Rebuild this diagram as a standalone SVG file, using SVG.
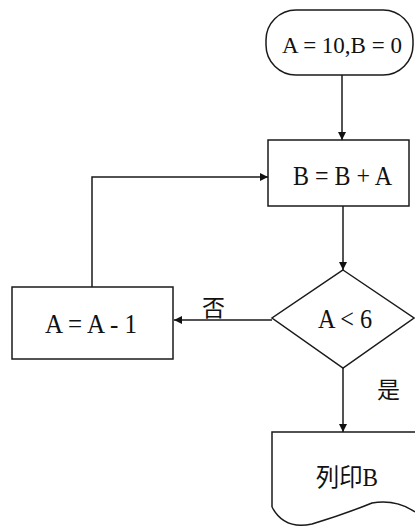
<svg xmlns="http://www.w3.org/2000/svg" width="415" height="529" viewBox="0 0 415 529">
<style>
.s{fill:none;stroke:#1a1a1a;stroke-width:1.5}
.t{font-family:"Liberation Serif","Noto Sans CJK TC",serif;font-size:27px;fill:#111}
.t0{font-family:"Liberation Serif","Noto Sans CJK TC",serif;font-size:23px;fill:#111}
.c{font-family:"Liberation Serif","Noto Sans CJK TC",serif;font-size:23px;fill:#111}
.p{font-family:"Liberation Serif","Noto Sans CJK TC",serif;font-size:25px;fill:#111}
</style>
<defs>
<marker id="ah" viewBox="0 0 10 10" refX="10" refY="5" markerWidth="8" markerHeight="8" markerUnits="userSpaceOnUse" orient="auto">
<path d="M0,0 L10,5 L0,10 Z" fill="#111"/>
</marker>
</defs>
<rect width="415" height="529" fill="#fff"/>
<g id="start">
<rect class="s" x="266" y="10" width="147" height="65" rx="30" ry="30"/>
<text class="t0" x="342" y="53" text-anchor="middle">A = 10,B = 0</text>
</g>
<g id="add">
<rect class="s" x="268" y="140" width="141" height="66"/>
<text class="t" x="293" y="185" textLength="99" lengthAdjust="spacingAndGlyphs">B = B + A</text>
</g>
<g id="cond">
<polygon class="s" points="343,270 414,318 343,368 272,318"/>
<text class="t" x="318" y="328" textLength="54" lengthAdjust="spacingAndGlyphs">A &lt; 6</text>
</g>
<g id="dec">
<rect class="s" x="12" y="287" width="161" height="72"/>
<text class="t" x="45" y="333" textLength="92" lengthAdjust="spacingAndGlyphs">A = A - 1</text>
</g>
<g id="print">
<path class="s" d="M272,507 L272,432 L415,432"/>
<path class="s" d="M272,507 Q284,530 312,524 Q345,514 372,503 Q396,499 415,512"/>
<text class="p" x="316" y="486" textLength="62" lengthAdjust="spacingAndGlyphs">列印B</text>
</g>
<g id="connectors">
<line class="s" x1="342" y1="75" x2="342" y2="140" marker-end="url(#ah)"/>
<line class="s" x1="343" y1="206" x2="343" y2="270" marker-end="url(#ah)"/>
<line class="s" x1="343" y1="368" x2="343" y2="432" marker-end="url(#ah)"/>
<line class="s" x1="272" y1="320" x2="174" y2="320" marker-end="url(#ah)"/>
<polyline class="s" points="92,287 92,177 268,177" marker-end="url(#ah)"/>
<text class="c" x="202" y="316">否</text>
<text class="c" x="377" y="398">是</text>
</g>
</svg>
